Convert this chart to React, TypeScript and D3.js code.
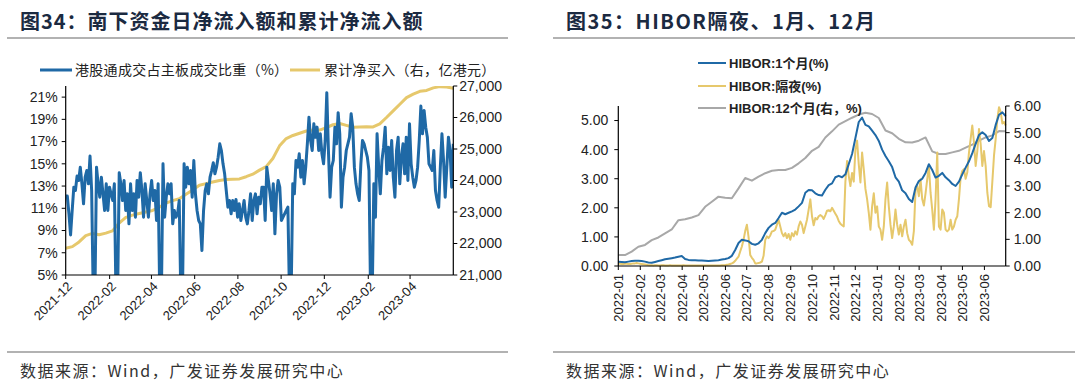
import React from 'react';
import * as d3 from 'd3';

const leftTitle = '图34：南下资金日净流入额和累计净流入额';
const rightTitle = '图35：HIBOR隔夜、1月、12月';
const sourceText = '数据来源：Wind，广发证券发展研究中心';

const leftLegend = ['港股通成交占主板成交比重（%）', '累计净买入（右，亿港元）'];
const shareTicks = [5, 7, 9, 11, 13, 15, 17, 19, 21];
const cumTicks = [21000, 22000, 23000, 24000, 25000, 26000, 27000];
const leftDateTicks = ['2021-12', '2022-02', '2022-04', '2022-06', '2022-08', '2022-10', '2022-12', '2023-02', '2023-04'];
const leftDomain = ['2021-12-01', '2023-06-01'];

const shareValues = [
  12.1, 12.1, 10.5, 8.6, 10.8, 12.9, 12.6, 13.9, 13.5, 14.7, 13.2, 11.4, 13.8, 14.4, 13.2, 15.7, 12.6, 3, 3, 14.7,
  13.2, 12.0, 13.8, 12.3, 10.8, 13.2, 10.8, 12.9, 12.3, 11.7, 13.2, 3, 3, 14.2, 13.2, 11.7, 13.5, 10.8, 12.3, 9.6,
  13.2, 10.8, 12.3, 10.2, 13.5, 12.0, 14.2, 12.6, 10.2, 13.2, 11.7, 10.2, 12.3, 13.5, 11.7, 12.6, 9.9, 13.2, 3, 3,
  15.0, 10.2, 12.0, 13.2, 12.3, 13.2, 9.6, 10.8, 10.2, 10.5, 11.7, 3, 3, 15.0, 12.9, 14.7, 13.2, 14.4, 12.0, 15.3,
  12.3, 10.8, 9.9, 9.6, 7.2, 10.8, 12.6, 13.2, 12.3, 13.8, 14.4, 15.1, 14.1, 14.7, 15.6, 16.8, 16.2, 15.0, 14.1, 12.6,
  11.1, 11.7, 10.5, 11.7, 10.8, 11.8, 10.2, 11.4, 9.9, 10.8, 11.7, 10.2, 9.6, 10.8, 12.3, 9.9, 11.7, 12.3, 10.5, 12.0,
  11.4, 12.9,
  12.9, 9.9, 14.7, 13.5, 12.3, 10.8, 13.2, 8.7, 12.3, 13.5, 12.9, 9.9, 10.2, 10.5, 10.8, 11.1, 3, 3, 13.2, 12.3,
  15.3, 14.7, 15.9, 13.8, 15.3, 13.2, 14.7, 16.8, 19.2, 17.1, 16.2, 18.6, 17.4, 18.3, 16.2, 17.7, 15.9, 15.0, 17.1, 21.4,
  16.2, 12.0, 14.7, 15.3, 18.3, 16.8, 19.6, 17.7, 11.1, 13.8, 14.7, 16.2, 16.8, 17.4, 19.5, 18.3, 14.7, 13.2, 12.3, 11.7,
  15.0, 17.1, 16.8, 16.2, 15.6, 14.4, 3, 3, 13.2, 10.2, 17.7, 14.7, 12.3, 15.3, 16.5, 18.3, 14.1, 16.5, 14.4, 17.1,
  13.8, 12.0, 16.2, 17.4, 13.2, 15.6, 16.8, 14.1, 17.4, 13.5, 18.6, 15.0, 13.8, 12.9, 13.5, 14.7, 17.1, 20.2, 17.7, 19.8,
  18.3, 17.4, 15.0, 14.7, 14.4, 16.2, 12.6, 11.7, 11.1, 14.7, 17.7, 15.3, 12.0, 14.7, 17.4, 16.2, 12.9, 16.8,
];

const cumValues = [
  21850, 21900, 22050, 22250, 22320, 22280, 22330, 22400, 22650, 22830, 22900, 22950, 23000, 23050, 23150, 23280,
  23360, 23420, 23560, 23700, 23850, 23900, 23950, 24000, 24030, 24040, 24050, 24120, 24200, 24330, 24440, 24700,
  25100, 25330, 25430, 25500, 25570, 25600, 25600, 25680, 25770, 25810, 25750, 25690, 25700, 25710, 25700, 25800,
  26000, 26210, 26420, 26630, 26740, 26830, 26860, 26940, 26980, 26970, 26930,
];

const rightLegend = ['HIBOR:1个月(%)', 'HIBOR:隔夜(%)', 'HIBOR:12个月(右，%)'];
const hiborDateTicks = ['2022-01', '2022-02', '2022-03', '2022-04', '2022-05', '2022-06', '2022-07', '2022-08', '2022-09',
  '2022-10', '2022-11', '2022-12', '2023-01', '2023-02', '2023-03', '2023-04', '2023-05', '2023-06'];
const hiborDomain = ['2022-01-01', '2023-07-01'];
const leftRateTicks = [0, 1, 2, 3, 4, 5];
const rightRateTicks = [0, 1, 2, 3, 4, 5, 6];

const hibor1M = [
  0.15, 0.14, 0.13, 0.15, 0.17, 0.18, 0.18, 0.17, 0.15, 0.12, 0.11, 0.14, 0.17, 0.2, 0.23, 0.25, 0.27, 0.29, 0.32, 0.34,
  0.24, 0.21, 0.2, 0.2, 0.19, 0.19, 0.18, 0.17, 0.18, 0.19, 0.2, 0.22, 0.24, 0.27, 0.35, 0.55, 0.79, 0.9, 0.88, 0.85,
  0.76, 0.73, 0.78, 0.9, 1.13, 1.31, 1.42, 1.48, 1.65, 1.83, 1.78, 1.83, 1.88, 1.94, 2.05, 2.17, 2.52, 2.61, 2.6, 2.5,
  2.44, 2.42, 2.62, 2.78, 2.84, 3.05, 3.1, 3.05, 3.15, 3.5, 3.85, 4.4, 4.95, 5.1, 4.85, 4.8, 4.65, 4.5, 4.3, 4.0,
  3.78, 3.6, 3.4, 3.05, 2.9, 2.6, 2.5, 2.3, 2.2, 2.7, 2.92, 3.0, 3.2, 3.5, 3.3, 3.04, 3.1, 3.2, 3.05, 2.95,
  2.82, 2.75, 2.9, 3.15, 3.38, 3.6, 3.88, 4.2, 4.5, 4.6, 4.5, 4.3, 4.4, 4.85, 5.2, 5.28, 5.15,
];

const hiborON = [
  0.09, 0.08, 0.07, 0.07, 0.08, 0.08, 0.07, 0.07, 0.08, 0.09, 0.09, 0.1, 0.09, 0.08, 0.07, 0.06, 0.05,
  0.04, 0.03, 0.03, 0.03, 0.02, 0.03, 0.03, 0.02, 0.02, 0.03, 0.03, 0.02, 0.02, 0.02, 0.03, 0.02, 0.02, 0.02, 0.02, 0.02,
  0.02, 0.02, 0.03, 0.02, 0.02, 0.02, 0.02, 0.02, 0.02, 0.02, 0.02, 0.02, 0.02, 0.02, 0.02, 0.02, 0.02, 0.02, 0.02, 0.02,
  0.02, 0.02, 0.02, 0.02, 0.02, 0.03, 0.03, 0.03, 0.04, 0.05,
  0.07, 0.09, 0.12, 0.18, 0.25, 0.32, 0.5, 0.67, 0.9, 1.2, 1.42, 1.0, 0.38, 0.28, 0.21, 0.09, 0.09, 0.1, 0.12, 0.15,
  0.35, 0.9, 1.02, 0.96, 1.05, 1.19, 1.2, 1.25, 1.42, 1.59, 1.36, 1.13, 1.02, 1.13, 0.96, 1.1, 0.9, 1.13, 1.02, 1.19,
  1.08, 1.36, 1.53, 1.42, 1.13, 1.36, 1.59, 1.94, 2.29, 1.71, 1.4, 1.65, 1.6, 1.71, 1.75, 1.71, 1.62, 1.75, 1.9, 1.92,
  1.88, 2.0, 1.9, 1.8, 1.7, 1.55, 1.45, 1.4, 1.36, 2.9, 3.61, 3.1, 2.75, 3.2, 2.9, 4.0, 4.31, 3.5, 2.87, 3.9,
  3.33, 2.65, 2.3, 1.83, 1.25, 2.05, 2.5, 1.83, 2.05, 1.36, 1.25, 0.9, 1.36, 2.3, 2.87, 2.05, 1.42, 0.96, 1.36, 1.94,
  1.42, 1.08, 1.42, 1.02, 1.36, 1.59, 1.13, 0.9, 0.84, 0.73, 1.2, 2.6, 2.75, 2.4, 2.98, 2.3, 2.08, 2.5, 2.98, 3.44,
  2.52, 1.94, 1.25, 2.3, 3.9, 1.36, 1.25, 1.94, 1.83, 1.25, 1.19, 1.25, 1.59, 1.25, 1.36, 1.59, 1.71, 2.3, 3.04, 3.27,
  3.33, 3.0, 3.22, 3.9, 4.37, 4.83, 4.25, 3.44, 3.95, 4.71, 4.2, 3.44, 3.95, 3.44, 2.52, 2.06, 2.02, 2.9, 3.8, 4.37,
  5.06, 5.46, 5.29, 4.9, 4.95, 4.83,
];

const hibor12M = [
  0.41, 0.41, 0.54, 0.72, 0.79, 0.97, 1.07, 1.22, 1.37, 1.72, 1.75, 1.82, 1.91, 2.22, 2.41, 2.6, 2.56, 2.54, 2.91, 3.3,
  3.2, 3.35, 3.48, 3.57, 3.6, 3.6, 3.68, 3.85, 4.05, 4.32, 4.47, 4.82, 5.05, 5.3, 5.43, 5.56, 5.68, 5.75, 5.7, 5.55,
  5.08, 4.98, 4.77, 4.64, 4.63, 4.7, 4.82, 4.3, 4.2, 4.2, 4.26, 4.32, 4.44, 4.55, 4.7, 4.82, 4.9, 5.06, 5.05,
];

const BLUE = '#1f69a6';
const GOLD = '#e6c86c';
const GRAY = '#a8a8a8';
const NUM_FONT = '"Liberation Sans", Arial, "Noto Sans CJK SC", sans-serif';
const CJK_FONT = '"Noto Sans CJK SC", "Liberation Sans", sans-serif';
const TEXT = '#222';

function spread(values: number[], domain: string[]) {
  const t0 = new Date(domain[0]).getTime();
  const t1 = new Date(domain[1]).getTime();
  return values.map((v, i) => ({ t: new Date(t0 + (i * (t1 - t0)) / (values.length - 1)), v }));
}

function LeftChart() {
  const x0 = 65.7, x1 = 453.3, yb = 275, yt = 86;
  const x = d3.scaleTime().domain(leftDomain.map((d) => new Date(d))).range([x0, x1]);
  const yL = d3.scaleLinear().domain([5, 22]).range([yb, yt]);
  const yR = d3.scaleLinear().domain([21000, 27000]).range([yb, yt]);
  const share = spread(shareValues, leftDomain);
  const cum = spread(cumValues, leftDomain);
  const lineL = d3.line<{ t: Date; v: number }>().x((d) => x(d.t)).y((d) => yL(d.v));
  const lineR = d3.line<{ t: Date; v: number }>().x((d) => x(d.t)).y((d) => yR(d.v));
  const fmt = d3.format(',');
  return (
    <g>
      <text x={20} y={29} fontFamily={CJK_FONT} fontWeight={700} fontSize={20} letterSpacing={1} fill="#1b2a41">{leftTitle}</text>
      <line x1={7} x2={508} y1={38} y2={38} stroke="#666" strokeWidth={1.2} />
      <line x1={40} x2={72} y1={70} y2={70} stroke={BLUE} strokeWidth={3} />
      <text x={75} y={70} dy="0.35em" fontFamily={CJK_FONT} fontSize={14} letterSpacing={0.3} fill={TEXT}>{leftLegend[0]}</text>
      <line x1={290} x2={320} y1={70} y2={70} stroke={GOLD} strokeWidth={3} />
      <text x={324} y={70} dy="0.35em" fontFamily={CJK_FONT} fontSize={14} letterSpacing={0.3} fill={TEXT}>{leftLegend[1]}</text>
      <defs>
        <clipPath id="clipL"><rect x={x0} y={yt} width={x1 - x0} height={yb - yt} /></clipPath>
      </defs>
      <g clipPath="url(#clipL)">
        <path d={lineR(cum) || ''} fill="none" stroke={GOLD} strokeWidth={3} strokeLinejoin="round" />
        <path d={lineL(share) || ''} fill="none" stroke={BLUE} strokeWidth={3} strokeLinejoin="round" />
      </g>
      <line x1={x0} x2={x0} y1={yt} y2={yb} stroke="#000" strokeWidth={1.2} />
      <line x1={x1} x2={x1} y1={yt} y2={yb} stroke="#000" strokeWidth={1.2} />
      <line x1={x0} x2={x1} y1={yb} y2={yb} stroke="#000" strokeWidth={1.2} />
      {shareTicks.map((t) => (
        <g key={'sl' + t}>
          <line x1={x0 - 4} x2={x0} y1={yL(t)} y2={yL(t)} stroke="#000" />
          <text x={x0 - 8} y={yL(t)} dy="0.35em" textAnchor="end" fontFamily={NUM_FONT} fontSize={14} fill={TEXT}>{t + '%'}</text>
        </g>
      ))}
      {cumTicks.map((t) => (
        <g key={'cr' + t}>
          <line x1={x1} x2={x1 + 4} y1={yR(t)} y2={yR(t)} stroke="#000" />
          <text x={x1 + 6} y={yR(t)} dy="0.35em" fontFamily={NUM_FONT} fontSize={14} fill={TEXT}>{fmt(t)}</text>
        </g>
      ))}
      {leftDateTicks.map((s) => {
        const xp = x(new Date(s + '-01'));
        return (
          <g key={'xl' + s}>
            <line x1={xp} x2={xp} y1={yb} y2={yb + 4} stroke="#000" />
            <text transform={`translate(${xp + 4},${yb + 9}) rotate(-45)`} textAnchor="end" dy="0.35em" fontFamily={NUM_FONT} fontSize={13} fill={TEXT}>{s}</text>
          </g>
        );
      })}
      <line x1={7} x2={508} y1={352} y2={352} stroke="#666" strokeWidth={1.2} />
      <text x={20} y={371} dy="0.35em" fontFamily={CJK_FONT} fontSize={16} letterSpacing={1.5} fill="#333">{sourceText}</text>
    </g>
  );
}

function RightChart() {
  const x0 = 618.3, x1 = 1005.7, yb = 266, yt = 106;
  const x = d3.scaleTime().domain(hiborDomain.map((d) => new Date(d))).range([x0, x1]);
  const yL = d3.scaleLinear().domain([0, 5.5]).range([yb, yt]);
  const yR = d3.scaleLinear().domain([0, 6]).range([yb, yt]);
  const m1 = spread(hibor1M, hiborDomain);
  const on = spread(hiborON, hiborDomain);
  const m12 = spread(hibor12M, hiborDomain);
  const lineL = d3.line<{ t: Date; v: number }>().x((d) => x(d.t)).y((d) => yL(d.v));
  const lineR = d3.line<{ t: Date; v: number }>().x((d) => x(d.t)).y((d) => yR(d.v));
  const legendColors = [BLUE, GOLD, GRAY];
  const legendY = [63, 86, 108];
  return (
    <g>
      <text x={566} y={29} fontFamily={CJK_FONT} fontWeight={700} fontSize={20} letterSpacing={1.5} fill="#1b2a41">{rightTitle}</text>
      <line x1={553} x2={1075} y1={38} y2={38} stroke="#666" strokeWidth={1.2} />
      <path d={lineR(m12) || ''} fill="none" stroke={GRAY} strokeWidth={2} strokeLinejoin="round" />
      <path d={lineL(on) || ''} fill="none" stroke={GOLD} strokeWidth={2} strokeLinejoin="round" />
      <path d={lineL(m1) || ''} fill="none" stroke={BLUE} strokeWidth={2} strokeLinejoin="round" />
      {rightLegend.map((s, i) => (
        <g key={'lg' + i}>
          <line x1={698} x2={726} y1={legendY[i]} y2={legendY[i]} stroke={legendColors[i]} strokeWidth={2} />
          <text x={729} y={legendY[i]} dy="0.35em" fontFamily={NUM_FONT} fontWeight={700} fontSize={13} fill={TEXT}>{s}</text>
        </g>
      ))}
      <line x1={x0} x2={x0} y1={yt} y2={yb} stroke="#000" strokeWidth={1.2} />
      <line x1={x1} x2={x1} y1={yt} y2={yb} stroke="#000" strokeWidth={1.2} />
      <line x1={x0} x2={x1} y1={yb} y2={yb} stroke="#000" strokeWidth={1.2} />
      {leftRateTicks.map((t) => (
        <g key={'rl' + t}>
          <line x1={x0 - 4} x2={x0} y1={yL(t)} y2={yL(t)} stroke="#000" />
          <text x={x0 - 10} y={yL(t)} dy="0.35em" textAnchor="end" fontFamily={NUM_FONT} fontSize={14} fill={TEXT}>{t.toFixed(2)}</text>
        </g>
      ))}
      {rightRateTicks.map((t) => (
        <g key={'rr' + t}>
          <line x1={x1} x2={x1 + 4} y1={yR(t)} y2={yR(t)} stroke="#000" />
          <text x={x1 + 8} y={yR(t)} dy="0.35em" fontFamily={NUM_FONT} fontSize={14} fill={TEXT}>{t.toFixed(2)}</text>
        </g>
      ))}
      {hiborDateTicks.map((s) => {
        const xp = x(new Date(s + '-01'));
        return (
          <g key={'xh' + s}>
            <line x1={xp} x2={xp} y1={yb} y2={yb + 4} stroke="#000" />
            <text transform={`translate(${xp},${yb + 8}) rotate(-90)`} textAnchor="end" dy="0.35em" fontFamily={NUM_FONT} fontSize={13} fill={TEXT}>{s}</text>
          </g>
        );
      })}
      <line x1={553} x2={1075} y1={352} y2={352} stroke="#666" strokeWidth={1.2} />
      <text x={566} y={371} dy="0.35em" fontFamily={CJK_FONT} fontSize={16} letterSpacing={1.5} fill="#333">{sourceText}</text>
    </g>
  );
}

export default function App() {
  return (
    <div style={{ position: 'absolute', left: 0, top: 0 }}>
      <style>{'body{margin:0}'}</style>
      <svg width={1080} height={383} viewBox="0 0 1080 383" style={{ display: 'block', background: '#fff' }}>
        <rect width={1080} height={383} fill="#fff" />
        <LeftChart />
        <RightChart />
      </svg>
    </div>
  );
}
